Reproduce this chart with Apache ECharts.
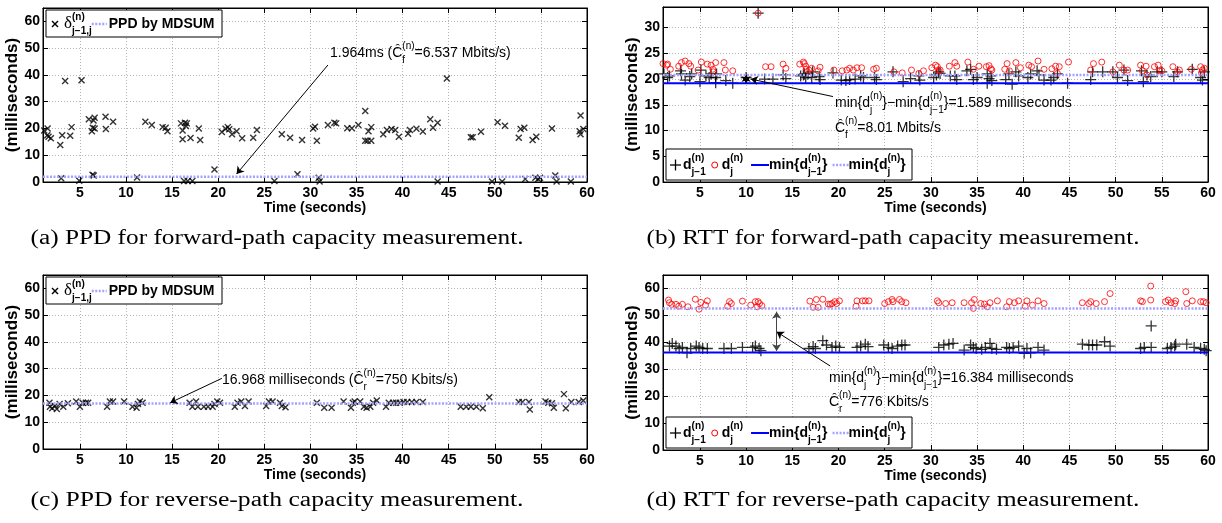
<!DOCTYPE html>
<html>
<head>
<meta charset="utf-8">
<script src="https://cdn.jsdelivr.net/npm/echarts@6/dist/echarts.min.js"></script>
<style>
  html, body { margin: 0; padding: 0; background: #fff; }
  #chart { width: 1222px; height: 523px; }
</style>
</head>
<body>
<div id="chart"></div>
<script>
// ---------- values ----------
var timeRange = [1, 60];
var xTicks = [5, 10, 15, 20, 25, 30, 35, 40, 45, 50, 55, 60];
var yTicksPpd = [0, 10, 20, 30, 40, 50, 60];
var yTicksRttFwd = [0, 5, 10, 15, 20, 25, 30];
var yTicksRttRev = [0, 10, 20, 30, 40, 50, 60];
var yMaxes = [65, 34, 65, 65];

// (a) packet pair dispersion, forward path  [time, ms]
var ppdFwd = [[1.13,19.2],[1.5,20.0],[1.46,17.5],[1.6,16.9],[1.85,16.3],[2.87,13.8],[2.97,1.4],[3.08,17.5],[3.4,37.7],[3.95,17.3],
  [4.1,20.5],[4.93,0.5],[5.18,38.0],[5.97,23.4],[6.3,19.0],[6.4,20.3],[6.48,23.0],[6.6,24.0],[6.37,2.7],[6.5,2.4],[6.6,20.0],
  [7.78,24.4],[7.82,19.8],[8.6,22.5],[11.2,1.7],[12.1,22.5],[12.8,21.3],[13.97,20.5],[14.3,20.3],[14.5,19.0],[15.96,21.9],
  [16.14,19.2],[16.14,16.0],[16.3,0.4],[16.4,22.1],[16.5,20.9],[16.6,21.9],[16.7,0.4],[17.0,16.4],[17.2,0.4],[17.9,20.0],
  [18.05,15.7],[19.6,4.7],[20.4,18.7],[20.8,19.9],[21.05,20.5],[21.2,19.7],[21.5,17.8],[22.0,19.0],[22.6,16.3],[23.8,16.5],
  [24.2,19.4],[26.1,0.4],[26.9,17.8],[27.8,16.5],[28.6,2.9],[29.1,15.7],[30.3,20.0],[30.5,20.6],[30.7,15.4],[30.9,1.6],
  [31.0,0.2],[31.9,21.3],[32.6,22.1],[32.8,21.9],[34.0,20.1],[34.5,20.1],[35.2,21.3],[35.95,26.5],[35.95,15.4],[36.3,19.0],
  [36.6,20.5],[36.6,15.4],[36.2,15.4],[37.9,17.8],[38.3,19.4],[38.8,19.8],[39.2,19.4],[39.6,16.9],[40.6,18.0],[40.8,19.4],
  [41.5,19.9],[42.2,18.9],[43.0,23.4],[43.3,20.3],[43.8,0.2],[43.8,22.1],[44.8,38.7],[47.4,16.7],[47.6,16.7],[48.5,18.8],
  [49.7,0.2],[50.3,22.3],[50.8,0.2],[51.1,21.0],[52.6,16.5],[52.8,19.8],[53.2,20.3],[53.3,1.1],[54.1,15.7],[54.5,16.9],
  [54.4,1.6],[54.7,1.1],[54.9,1.6],[56.2,20.0],[56.56,2.4],[56.7,0.2],[58.25,0.2],[59.3,24.8],[59.2,19.0],[59.3,17.8],[59.6,19.8]];
var ppdFwdMdsum = 1.964;

// (b) RTT, forward path
var rttFwdPrev = [[1.1,21.0],[1.5,20.3],[1.7,20.6],[2.9,21.6],[3.0,21.0],[3.4,19.8],[3.9,20.5],[4.1,21.0],[5.0,19.5],[5.1,21.75],
  [5.65,20.6],[6.0,20.3],[6.2,21.0],[6.7,19.3],[6.7,20.3],[6.8,21.0],[7.8,19.7],[8.55,19.2],[10.0,20.3],[11.3,32.8],[12.0,20.0],
  [12.9,20.0],[14.0,20.8],[14.3,20.1],[15.9,20.6],[16.2,20.8],[16.3,21.0],[16.45,20.3],[16.7,21.0],[17.1,20.3],[17.2,21.4],
  [17.9,20.5],[18.0,19.9],[19.4,21.2],[20.3,19.8],[20.8,19.7],[21.2,19.9],[21.8,20.0],[22.4,20.6],[22.7,20.3],[23.9,20.3],
  [24.1,19.9],[25.9,21.4],[27.0,19.5],[27.8,20.1],[28.7,20.6],[28.8,19.8],[30.3,20.3],[30.6,20.8],[30.85,21.4],[31.0,21.1],
  [32.1,20.6],[32.6,20.6],[32.8,19.9],[33.9,21.6],[34.3,21.9],[34.6,19.9],[35.0,20.3],[36.1,21.0],[36.3,20.1],[36.5,20.6],
  [36.6,19.7],[36.1,19.2],[38.1,19.9],[38.45,21.0],[38.8,19.0],[39.2,21.4],[39.5,20.6],[40.5,20.3],[40.8,21.0],[41.5,21.6],
  [41.7,20.8],[42.25,19.8],[43.0,19.8],[43.3,20.3],[43.7,21.0],[44.8,19.2],[47.3,19.9],[47.5,21.4],[48.6,21.4],[49.7,21.4],
  [50.2,20.3],[50.9,21.75],[51.3,19.7],[52.8,21.6],[53.0,19.5],[53.4,20.8],[53.8,20.5],[54.5,21.4],[55.0,21.4],[56.3,20.5],
  [56.7,21.4],[58.3,21.9],[59.2,20.3],[59.4,19.8],[59.6,21.4]];
var rttFwdCur = [[1.0,23.0],[1.4,22.7],[1.5,22.9],[1.8,21.9],[2.7,22.5],[3.0,23.2],[3.4,23.5],[3.8,23.0],[4.0,22.5],[4.8,21.75],
  [5.15,23.3],[5.8,22.9],[6.2,22.7],[6.4,21.9],[6.45,21.4],[6.7,23.2],[7.6,23.2],[7.75,21.75],[8.55,21.6],[11.3,32.8],[12.1,22.4],
  [12.7,22.4],[14.0,22.9],[14.3,22.1],[15.8,22.9],[16.2,23.3],[16.3,23.0],[16.45,22.5],[16.5,21.9],[16.8,21.75],[17.1,22.1],
  [17.8,21.6],[18.0,22.3],[19.5,21.75],[20.4,21.6],[20.9,21.75],[21.2,22.1],[21.6,21.75],[22.0,22.2],[22.5,22.2],[23.8,21.9],
  [24.1,22.1],[26.0,21.4],[26.9,21.2],[27.9,21.75],[28.7,21.1],[29.2,21.6],[30.1,22.2],[30.5,22.7],[30.7,22.4],[30.85,21.6],
  [31.0,21.75],[32.0,22.5],[32.6,23.2],[32.8,22.5],[34.0,23.3],[34.6,21.9],[35.2,22.5],[36.0,22.4],[36.3,22.6],[36.5,22.0],
  [36.6,21.75],[38.0,21.9],[38.25,23.0],[38.5,21.6],[39.2,23.2],[39.7,22.2],[40.6,22.7],[40.9,22.4],[41.6,23.5],[42.25,21.9],
  [43.1,22.0],[43.5,22.5],[43.9,22.4],[43.7,21.1],[44.9,23.3],[47.3,21.75],[47.6,23.0],[48.5,23.3],[49.7,21.4],[50.4,22.7],
  [50.9,21.75],[51.3,21.75],[52.7,22.7],[52.9,21.6],[53.3,22.5],[53.4,20.8],[54.2,22.4],[54.6,22.7],[54.75,21.6],[55.0,21.6],
  [56.2,22.4],[56.7,21.4],[56.9,21.75],[58.2,21.9],[59.2,22.4],[59.4,21.75],[59.6,22.1],[59.3,21.2]];
var rttFwdMinPrev = 19.2;
var rttFwdMinCur = 20.789;

// (c) packet pair dispersion, reverse path
var ppdRev = [[1.7,17.3],[1.75,15.8],[2.0,15.2],[2.3,16.1],[2.5,14.9],[2.8,16.8],[3.2,15.8],[3.7,17.1],[4.6,17.7],[5.0,15.8],
  [5.3,17.3],[5.65,17.3],[5.9,17.3],[7.95,15.8],[8.25,17.7],[8.6,17.7],[9.8,17.7],[10.7,15.8],[11.15,15.4],[11.3,16.8],
  [11.5,17.7],[11.8,17.3],[16.9,17.3],[17.2,15.8],[17.6,17.7],[17.8,15.8],[18.45,15.8],[18.9,15.8],[19.4,15.8],[19.6,16.8],
  [19.9,17.7],[20.2,17.3],[21.8,15.8],[22.1,17.3],[22.5,17.7],[22.9,16.1],[23.3,17.7],[25.2,16.1],[25.5,17.7],[25.9,17.7],
  [26.7,17.3],[26.9,16.1],[27.3,15.6],[30.7,17.3],[31.5,15.4],[32.3,15.4],[33.6,17.7],[34.4,15.4],[34.6,17.3],[34.8,17.7],
  [35.4,17.7],[35.8,15.8],[36.1,15.4],[36.5,15.8],[36.8,17.3],[37.2,18.1],[38.2,15.8],[38.5,17.3],[38.98,17.3],[39.3,17.3],
  [39.7,17.3],[40.1,17.6],[40.5,17.6],[41.0,17.6],[41.5,17.6],[42.2,17.6],[46.3,15.8],[46.9,15.8],[47.4,15.8],[48.0,15.8],
  [48.7,15.2],[49.4,19.3],[52.6,17.6],[53.0,17.6],[53.8,14.8],[53.7,17.6],[55.5,17.7],[55.8,17.3],[56.2,17.1],[56.4,15.4],
  [57.5,20.5],[57.7,15.2],[58.3,17.6],[59.1,17.6],[59.6,18.1]];
var ppdRevMdsum = 16.968;

// (d) RTT, reverse path
var rttRevPrev = [[1.7,38.6],[2.0,39.6],[2.4,38.6],[2.75,37.7],[3.1,38.1],[3.6,36.1],[4.0,37.7],[4.6,38.6],[4.9,38.1],[5.3,37.7],
  [5.8,37.7],[7.6,37.7],[8.4,37.7],[9.6,38.1],[10.7,38.1],[11.0,38.6],[11.4,37.7],[11.6,36.9],[16.8,37.7],[17.25,38.4],
  [17.5,37.7],[18.3,40.6],[18.7,39.0],[19.3,38.1],[19.7,38.6],[20.1,38.1],[22.0,38.1],[22.4,38.6],[22.9,39.3],[23.2,38.4],
  [24.9,39.0],[25.4,38.1],[25.8,37.7],[26.4,38.6],[26.85,39.0],[27.2,39.0],[30.85,38.1],[31.4,39.0],[31.95,39.3],[32.4,39.6],
  [33.6,37.1],[34.3,39.0],[34.6,38.1],[34.9,37.7],[35.5,37.4],[35.9,38.1],[36.4,39.6],[36.6,37.7],[37.1,37.4],[38.2,38.1],
  [38.5,37.7],[38.9,38.1],[39.5,38.6],[40.1,35.9],[40.4,37.7],[40.8,36.1],[41.6,38.1],[42.25,37.1],[46.4,39.3],[47.1,39.0],
  [47.5,39.0],[47.96,39.0],[48.8,40.2],[49.4,38.6],[52.7,37.7],[53.1,38.1],[53.85,46.1],[53.85,38.1],[55.6,37.7],[56.0,38.1],
  [56.4,38.6],[56.5,39.3],[57.7,39.3],[58.5,38.1],[59.2,37.7],[59.6,37.4],[59.8,36.9]];
var rttRevCur = [[1.6,55.7],[1.7,54.7],[1.95,54.1],[2.4,54.1],[2.7,53.4],[3.1,54.1],[3.7,53.2],[4.5,56.0],[4.9,52.3],[5.1,54.8],
  [5.6,53.8],[5.8,55.4],[8.0,53.4],[8.2,55.1],[8.4,54.4],[9.6,55.3],[10.5,53.8],[11.0,55.1],[11.2,53.2],[11.3,55.1],[11.45,54.4],
  [11.7,53.6],[16.9,55.3],[17.25,53.0],[17.6,55.9],[17.8,53.0],[18.3,56.0],[18.9,54.2],[19.1,54.1],[19.3,54.4],[19.6,55.1],
  [19.8,54.4],[20.1,55.4],[21.9,53.4],[22.0,55.4],[22.6,55.4],[22.9,55.4],[23.3,55.4],[25.0,54.4],[25.4,55.1],[25.8,55.9],
  [25.9,55.1],[26.6,55.9],[26.85,55.1],[27.3,54.7],[30.7,55.4],[30.85,54.7],[31.6,54.4],[32.3,54.7],[33.6,54.7],[34.4,54.7],
  [34.7,55.9],[34.6,52.6],[35.4,54.4],[35.8,54.2],[36.1,53.2],[36.4,54.7],[37.2,55.4],[38.2,53.2],[38.5,55.1],[39.05,54.7],
  [39.5,55.4],[40.2,53.4],[40.4,55.4],[41.0,53.8],[41.6,55.4],[42.25,54.4],[46.4,54.7],[47.1,54.4],[47.3,55.1],[47.9,54.4],
  [48.8,55.1],[49.4,58.1],[52.7,55.4],[52.9,55.1],[53.8,55.7],[53.8,60.9],[55.4,55.1],[55.7,55.7],[56.0,54.7],[56.4,54.4],
  [56.5,55.4],[57.6,58.8],[57.7,54.4],[58.3,55.4],[59.2,55.1],[59.5,55.1],[59.8,54.7]];
var rttRevMinPrev = 36.2;
var rttRevMinCur = 52.584;

// ---------- layout / style ----------
var SANS = '"Liberation Sans", Arial, Helvetica, sans-serif';
var SERIF = '"Liberation Serif", "Times New Roman", serif';
var LAVENDER = '#a3a3ff';
var grids = [
  {left: 43, top: 8, width: 544, height: 174},
  {left: 663, top: 7, width: 545, height: 175},
  {left: 43, top: 275, width: 544, height: 174},
  {left: 663, top: 275, width: 545, height: 175}
];
var yTickSets = [yTicksPpd, yTicksRttFwd, yTicksPpd, yTicksRttRev];

var crossPath = 'path://M0,0L10,10M10,0L0,10';
var plusPath = 'path://M0,5L10,5M5,0L5,10';

var xAxes = [], yAxes = [];
grids.forEach(function (g, i) {
  var tick = {show: true, inside: true, length: 5, lineStyle: {color: '#000'}};
  xAxes.push({
    gridIndex: i, type: 'value', position: 'bottom', min: timeRange[0], max: timeRange[1],
    name: 'Time (seconds)', nameLocation: 'middle', nameGap: 17,
    nameTextStyle: {fontFamily: SANS, fontWeight: 'bold', fontSize: 14, color: '#000'},
    axisLine: {show: true, onZero: false, lineStyle: {color: '#000', width: 1}},
    axisTick: Object.assign({customValues: xTicks}, tick),
    axisLabel: {customValues: xTicks, color: '#000', fontFamily: SANS, fontWeight: 'bold', fontSize: 14, margin: 4},
    splitLine: {show: true, lineStyle: {color: '#b4b4b4', type: [1, 2], width: 1}}
  });
  xAxes.push({
    gridIndex: i, type: 'value', position: 'top', min: timeRange[0], max: timeRange[1],
    axisLine: {show: true, onZero: false, lineStyle: {color: '#000', width: 1}},
    axisTick: Object.assign({customValues: xTicks}, tick),
    axisLabel: {show: false}, splitLine: {show: false}
  });
  yAxes.push({
    gridIndex: i, type: 'value', position: 'left', min: 0, max: yMaxes[i],
    name: '(milliseconds)', nameLocation: 'middle', nameGap: 18,
    nameTextStyle: {fontFamily: SANS, fontWeight: 'bold', fontSize: 17, color: '#000'},
    axisLine: {show: true, onZero: false, lineStyle: {color: '#000', width: 1}},
    axisTick: Object.assign({customValues: yTickSets[i]}, tick),
    axisLabel: {customValues: yTickSets[i], color: '#000', fontFamily: SANS, fontWeight: 'bold', fontSize: 14, margin: 3},
    splitLine: {show: true, lineStyle: {color: '#b4b4b4', type: [1, 2], width: 1}}
  });
  yAxes.push({
    gridIndex: i, type: 'value', position: 'right', min: 0, max: yMaxes[i],
    axisLine: {show: true, onZero: false, lineStyle: {color: '#000', width: 1}},
    axisTick: Object.assign({customValues: yTickSets[i]}, tick),
    axisLabel: {show: false}, splitLine: {show: false}
  });
});

function arrows(pairs, color) {
  return {
    silent: true, animation: false, precision: 3,
    label: {show: false},
    lineStyle: {color: color || '#000', width: 1, type: 'solid'},
    emphasis: {disabled: true},
    symbolSize: 7,
    data: pairs.map(function (p) {
      return [{coord: p[0], symbol: p[2] ? 'arrow' : 'none'}, {coord: p[1], symbol: 'arrow'}];
    })
  };
}

function scatter(g, data, kind) {
  var s = {type: 'scatter', xAxisIndex: 2 * g, yAxisIndex: 2 * g, data: data, silent: true};
  if (kind === 'cross') {
    s.symbol = crossPath; s.symbolSize = 6;
    s.itemStyle = {color: '#000', borderColor: '#000', borderWidth: 1.4};
  } else if (kind === 'plus') {
    s.symbol = plusPath; s.symbolSize = 11;
    s.itemStyle = {color: '#000', borderColor: '#000', borderWidth: 1.3};
  } else {
    s.symbol = 'circle'; s.symbolSize = 6;
    s.itemStyle = {color: 'rgba(0,0,0,0)', borderColor: '#ff0000', borderWidth: 1};
  }
  return s;
}

function hline(g, value, dotted, markLine) {
  var s = {
    type: 'line', xAxisIndex: 2 * g, yAxisIndex: 2 * g, silent: true,
    data: [[timeRange[0], value], [timeRange[1], value]],
    symbol: 'none',
    lineStyle: dotted ? {color: LAVENDER, width: 2.5, type: [2, 1.5]} : {color: '#0000ff', width: 2}
  };
  if (markLine) s.markLine = markLine;
  return s;
}

var series = [
  scatter(0, ppdFwd, 'cross'),
  hline(0, ppdFwdMdsum, true, arrows([[[31.9, 43.7], [22.0, 3.0]]])),

  scatter(1, rttFwdPrev, 'plus'),
  scatter(1, rttFwdCur, 'circle'),
  hline(1, rttFwdMinPrev, false, arrows([[[19.4, 16.6], [10.5, 20.0]]])),
  hline(1, rttFwdMinCur, true, arrows([[[10.0, rttFwdMinPrev], [10.0, rttFwdMinCur], true]])),

  scatter(2, ppdRev, 'cross'),
  hline(2, ppdRevMdsum, true, arrows([[[20.4, 26.4], [14.8, 17.3]]])),

  scatter(3, rttRevPrev, 'plus'),
  scatter(3, rttRevCur, 'circle'),
  hline(3, rttRevMinPrev, false, arrows([[[19.1, 31.2], [13.3, 43.9]]])),
  hline(3, rttRevMinCur, true, arrows([[[13.3, rttRevMinPrev + 0.6], [13.3, rttRevMinCur - 1.2], true]], '#444'))
];

// ---------- text with super/subscripts, legends, captions ----------
var ctx = document.createElement('canvas').getContext('2d');
function font(size, bold, fam) { return (bold ? 'bold ' : '') + size + 'px ' + (fam || SANS); }
function widthOf(t, f) { ctx.font = f; return ctx.measureText(t).width; }

function mathRow(out, x, y, tokens, size, bold) {
  var cx = x, small = Math.round(size * 0.74);
  tokens.forEach(function (tk) {
    if (typeof tk === 'string' || tk.serif) {
      var txt = typeof tk === 'string' ? tk : tk.serif;
      var f = typeof tk === 'string' ? font(size, bold) : font(tk.size, false, SERIF);
      out.push({type: 'text', x: cx, y: y, z: 100, silent: true,
        style: {text: txt, font: f, fill: '#000', verticalAlign: 'middle'}});
      cx += widthOf(txt, f);
    } else if (tk.sup !== undefined || tk.sub !== undefined) {
      var fs = font(small, bold), w = 0;
      if (tk.sup) {
        out.push({type: 'text', x: cx, y: y - size * 0.45, z: 100, silent: true,
          style: {text: tk.sup, font: fs, fill: '#000', verticalAlign: 'middle'}});
        w = Math.max(w, widthOf(tk.sup, fs));
      }
      if (tk.sub) {
        out.push({type: 'text', x: cx, y: y + size * 0.52, z: 100, silent: true,
          style: {text: tk.sub, font: fs, fill: '#000', verticalAlign: 'middle'}});
        w = Math.max(w, widthOf(tk.sub, fs));
      }
      cx += w;
    } else if (tk.gap) {
      cx += tk.gap;
    } else if (tk.line) {
      out.push({type: 'line', z: 100, silent: true, shape: {x1: cx, y1: y, x2: cx + tk.len, y2: y},
        style: {stroke: tk.line, lineWidth: tk.dash ? 2.5 : 2, lineDash: tk.dash || null}});
      cx += tk.len;
    } else if (tk.mark) {
      var h = tk.len / 2, c = cx + h;
      if (tk.mark === 'plus') {
        out.push({type: 'line', z: 100, silent: true, shape: {x1: cx, y1: y, x2: cx + tk.len, y2: y}, style: {stroke: '#000', lineWidth: 1.3}});
        out.push({type: 'line', z: 100, silent: true, shape: {x1: c, y1: y - h, x2: c, y2: y + h}, style: {stroke: '#000', lineWidth: 1.3}});
      } else if (tk.mark === 'cross') {
        out.push({type: 'line', z: 100, silent: true, shape: {x1: cx, y1: y - h, x2: cx + tk.len, y2: y + h}, style: {stroke: '#000', lineWidth: 1.4}});
        out.push({type: 'line', z: 100, silent: true, shape: {x1: cx, y1: y + h, x2: cx + tk.len, y2: y - h}, style: {stroke: '#000', lineWidth: 1.4}});
      } else {
        out.push({type: 'circle', z: 100, silent: true, shape: {cx: c, cy: y, r: h}, style: {fill: 'none', stroke: '#ff0000', lineWidth: 1}});
      }
      cx += tk.len;
    }
  });
  return cx;
}

function box(out, x, y, w, h) {
  out.push({type: 'rect', z: 99, silent: true, shape: {x: x, y: y, width: w, height: h},
    style: {fill: '#fff', stroke: '#000', lineWidth: 1}});
}

var gfx = [];
// legends (a) and (c)
[[10, 24], [277, 291]].forEach(function (p) {
  box(gfx, 46, p[0], 176, 27);
  mathRow(gfx, 52, p[1], [{mark: 'cross', len: 6}, {gap: 6}, {serif: 'δ', size: 17},
    {sup: '(n)', sub: 'j−1,j'}, {line: LAVENDER, dash: [2, 1.5], len: 15}, {gap: 2}, 'PPD by MDSUM'], 14, true);
});
// legends (b) and (d)
[[149, 165], [417, 433]].forEach(function (p) {
  box(gfx, 666, p[0], 246, 31);
  mathRow(gfx, 670, p[1], [{mark: 'plus', len: 11}, {gap: 2}, 'd', {sup: '(n)', sub: 'j−1'}, {gap: 6},
    {mark: 'circle', len: 6}, {gap: 4}, 'd', {sup: '(n)', sub: 'j'}, {gap: 8},
    {line: '#0000ff', len: 18}, 'min{d', {sup: '(n)', sub: 'j−1'}, '}', {gap: 5},
    {line: LAVENDER, dash: [2, 1.5], len: 16}, 'min{d', {sup: '(n)', sub: 'j'}, '}'], 14, true);
});
// annotations
mathRow(gfx, 330, 53, ['1.964ms (', 'Ĉ', {sup: '(n)', sub: 'f'}, '=6.537 Mbits/s)'], 14, false);
mathRow(gfx, 835, 103, ['min{d', {sup: '(n)', sub: 'j'}, '}−min{d', {sup: '(n)', sub: 'j−1'}, '}=1.589 milliseconds'], 14, false);
mathRow(gfx, 835, 128, ['Ĉ', {sup: '(n)', sub: 'f'}, '=8.01 Mbits/s'], 14, false);
mathRow(gfx, 222, 380, ['16.968 milliseconds (', 'Ĉ', {sup: '(n)', sub: 'r'}, '=750 Kbits/s)'], 14, false);
mathRow(gfx, 829, 378, ['min{d', {sup: '(n)', sub: 'j'}, '}−min{d', {sup: '(n)', sub: 'j−1'}, '}=16.384 milliseconds'], 14, false);
mathRow(gfx, 829, 402, ['Ĉ', {sup: '(n)', sub: 'r'}, '=776 Kbits/s'], 14, false);

// sub-figure captions
var captions = [
  ['(a) PPD for forward-path capacity measurement.', 277, 239],
  ['(b) RTT for forward-path capacity measurement.', 893, 239],
  ['(c) PPD for reverse-path capacity measurement.', 277, 501],
  ['(d) RTT for reverse-path capacity measurement.', 893, 501]
];
captions.forEach(function (c) {
  var f = font(20, false, SERIF);
  gfx.push({type: 'text', x: c[1], y: c[2], z: 100, silent: true,
    scaleX: 493 / widthOf(c[0], f),
    style: {text: c[0], font: f, fill: '#000', align: 'center', verticalAlign: 'middle'}});
});

var chart = echarts.init(document.getElementById('chart'));
chart.setOption({
  backgroundColor: '#fff',
  animation: false,
  grid: grids.map(function (g) {
    return Object.assign({show: true, borderColor: '#000', borderWidth: 1, backgroundColor: '#fff'}, g);
  }),
  xAxis: xAxes,
  yAxis: yAxes,
  series: series,
  graphic: gfx
});
</script>
</body>
</html>
